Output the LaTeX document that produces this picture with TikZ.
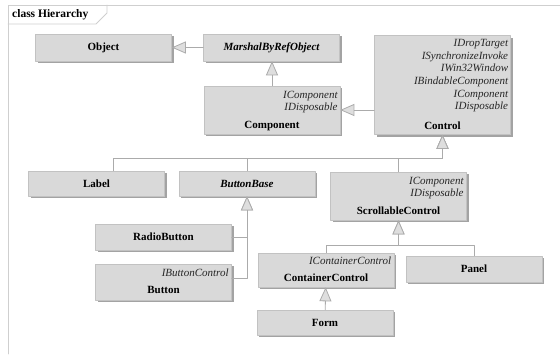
\documentclass[tikz,border=0pt]{standalone}
\usepackage{fontspec}
\setmainfont{Liberation Serif}
\usetikzlibrary{arrows.meta,shadows}
\definecolor{boxfill}{HTML}{D9D9D9}
\definecolor{boxline}{HTML}{C2C2C2}
\definecolor{boxshadow}{HTML}{A3A3A3}
\definecolor{linegray}{HTML}{ABABAB}
\definecolor{trifill}{HTML}{DEDEDE}
\definecolor{framegray}{HTML}{CFCFCF}
\tikzset{
  cls/.style={draw=boxline,fill=boxfill,line width=0.6pt,minimum width=136pt,
    inner sep=0pt,font=\bfseries\fontsize{11}{13}\selectfont,
    drop shadow={shadow xshift=2pt,shadow yshift=-2pt,fill=boxshadow,opacity=1}},
  clsname/.style={inner sep=0pt,font=\bfseries\fontsize{11}{13}\selectfont},
  iface/.style={inner sep=0pt,align=right,text=black!85,
    font=\itshape\fontsize{11}{12.6}\selectfont},
  gen/.style={draw=linegray,line width=0.8pt,
    -{Triangle[length=14pt,width=12pt,fill=trifill]}},
  frame/.style={draw=framegray,line width=0.8pt}
}
\begin{document}
\begin{tikzpicture}[line cap=round,line join=round,x=1pt,y=-1pt]
    \useasboundingbox (0,0) rectangle (560,354);
    % frame with its tab
    \draw[frame] (8,354) -- (8,5) -- (560,5);
    \draw[frame] (8,24) -- (96,24) -- (107,13) -- (107,5);
    \node[clsname,anchor=west,font=\bfseries\fontsize{11.5}{13}\selectfont] (title) at (12,15) {class Hierarchy};
    % classes
    \node[cls,minimum height=27pt] (object) at (103.5,47.5) {Object};
    \node[cls,minimum height=27pt] (marshal) at (271.5,47.5) {\itshape MarshalByRefObject};
    \node[cls,minimum height=48pt] (component) at (272,110) {};
    \node[iface,anchor=north east] (componentif) at ([xshift=-2.5pt,yshift=-5pt]component.north east) {IComponent\\IDisposable};
    \node[clsname,anchor=base] (componentname) at ([yshift=5.5pt]component.south) {Component};
    \node[cls,minimum height=99pt] (control) at (442.5,85) {};
    \node[iface,anchor=north east] (controlif) at ([xshift=-2.5pt,yshift=-4pt]control.north east) {IDropTarget\\ISynchronizeInvoke\\IWin32Window\\IBindableComponent\\IComponent\\IDisposable};
    \node[clsname,anchor=base] (controlname) at ([yshift=5.5pt]control.south) {Control};
    \node[cls,minimum height=25pt] (lbl) at (96.5,183.5) {Label};
    \node[cls,minimum height=25pt] (buttonbase) at (247,183.5) {\itshape ButtonBase};
    \node[cls,minimum height=48pt] (scrollable) at (398.5,196) {};
    \node[iface,anchor=north east] (scrollableif) at ([xshift=-3pt,yshift=-5pt]scrollable.north east) {IComponent\\IDisposable};
    \node[clsname,anchor=base] (scrollablename) at ([yshift=5.5pt]scrollable.south) {ScrollableControl};
    \node[cls,minimum height=26pt] (radio) at (163.5,237) {RadioButton};
    \node[cls,minimum height=36pt] (button) at (163.5,282) {};
    \node[iface,anchor=north east] (buttonif) at ([xshift=-3pt,yshift=-4.5pt]button.north east) {IButtonControl};
    \node[clsname,anchor=base] (buttonname) at ([yshift=6.5pt]button.south) {Button};
    \node[cls,minimum height=34pt] (container) at (326,270) {};
    \node[iface,anchor=north east] (containerif) at ([xshift=-3pt,yshift=-4pt]container.north east) {IContainerControl};
    \node[clsname,anchor=base] (containername) at ([yshift=6pt]container.south) {ContainerControl};
    \node[cls,minimum height=26pt] (panel) at (474,269) {Panel};
    \node[cls,minimum height=25pt] (form) at (325,322.5) {Form};
    % generalizations
    \draw[gen] (marshal) -- (object);
    \draw[gen] (component.north) -- (component.north |- marshal.south);
    \draw[gen] (control.west |- component.east) -- (component.east);
    \path (control.south) ++(0,24) coordinate (ctlbus);
    \draw[gen] ([xshift=16.5pt]lbl.north) |- (ctlbus) -- (control.south);
    \draw[gen] (buttonbase.north) |- (ctlbus) -- (control.south);
    \draw[gen] (scrollable.north) |- (ctlbus) -- (control.south);
    \draw[gen] (radio.east) -| (buttonbase.south);
    \draw[gen] ([yshift=4pt]button.east) -| (buttonbase.south);
    \path (scrollable.south) ++(0,25) coordinate (scrbus);
    \draw[gen] (container.north) |- (scrbus) -- (scrollable.south);
    \draw[gen] (panel.north) |- (scrbus) -- (scrollable.south);
    \draw[gen] (form) -- (container);
\end{tikzpicture}
\end{document}
